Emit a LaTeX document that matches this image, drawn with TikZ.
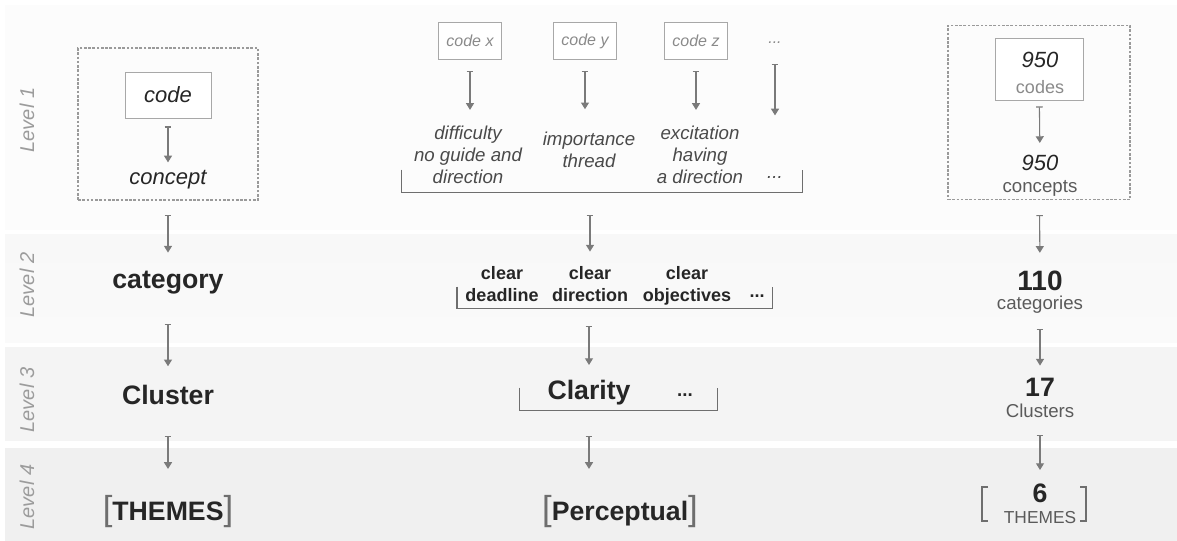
\documentclass[tikz,border=0pt]{standalone}
\usepackage{fontspec}
\setmainfont{Liberation Sans}
\usetikzlibrary{arrows.meta}

\newcommand{\sqbl}{{\fontsize{26}{26}\selectfont\mdseries\color{brkColour}[}}
\newcommand{\sqbr}{{\fontsize{26}{26}\selectfont\mdseries\color{brkColour}]}}

\begin{document}
\begin{tikzpicture}[x=0.75pt, y=-0.75pt,
    every node/.style={inner sep=1pt, text=textColour},
    arr/.style={draw=arrowColour, line width=0.8pt, {Bar[width=5pt]}-{Triangle[width=6pt, length=5pt]}},
    dashbox/.style={draw=dashColour, line width=0.9pt, dash pattern=on 2pt off 1.2pt},
    codebox/.style={draw=codeColour, line width=0.7pt, fill=white},
    brk/.style={draw=brkColour, line width=0.9pt},
    lvl/.style={rotate=90, text=lvlColour, font=\fontsize{15}{18}\selectfont\itshape},
    bigtext/.style={font=\fontsize{20}{24}\selectfont\bfseries},
    italtext/.style={font=\fontsize{16.5}{20}\selectfont\itshape},
    smalltext/.style={font=\fontsize{14}{16.5}\selectfont\itshape, align=center, text=italColour},
    cleartext/.style={font=\fontsize{13.5}{16.5}\selectfont\bfseries, align=center, text depth=3pt},
    codetext/.style={font=\fontsize{12}{14}\selectfont\itshape, text=codeText},
    counttext/.style={font=\fontsize{14}{17}\selectfont, text=countColour}
  ]
    % Define colours
    \definecolor{textColour}{HTML}{262626}
    \definecolor{italColour}{HTML}{4A4A4A}
    \definecolor{arrowColour}{HTML}{7A7A7A}
    \definecolor{dashColour}{HTML}{9A9A9A}
    \definecolor{codeColour}{HTML}{A8A8A8}
    \definecolor{codeText}{HTML}{8A8A8A}
    \definecolor{brkColour}{HTML}{6E6E6E}
    \definecolor{lvlColour}{HTML}{9C9C9C}
    \definecolor{countColour}{HTML}{5A5A5A}
    \definecolor{bandOne}{HTML}{FCFCFC}
    \definecolor{bandTwoTop}{HTML}{F8F8F8}
    \definecolor{bandTwoBottom}{HTML}{FAFAFA}
    \definecolor{bandThree}{HTML}{F4F4F4}
    \definecolor{bandFour}{HTML}{F0F0F0}

    % Fix the page size
    \fill[white] (0,0) rectangle (1177,541);
    \useasboundingbox (0,0) rectangle (1177,541);

    % Draw level bands
    \fill[bandOne] (5,5) rectangle (1177,230);
    \shade[top color=bandTwoTop, bottom color=bandTwoBottom] (5,235) rectangle (1177,343);
    \fill[bandThree] (5,347) rectangle (1177,441);
    \fill[bandFour] (5,448) rectangle (1177,541);

    % Level labels
    \node[lvl] (lvlA) at (27,120) {Level 1};
    \node[lvl] (lvlB) at (27,285) {Level 2};
    \node[lvl] (lvlC) at (27,400) {Level 3};
    \node[lvl] (lvlD) at (27,497) {Level 4};

    % Left column
    \node[dashbox, minimum width=135pt, minimum height=114pt] (lbox) at (168,124) {};
    \node[codebox, italtext, minimum width=64.5pt, minimum height=34.5pt] (lcode) at (168,95) {code};
    \node[italtext] (lconcept) at (168,180) {concept};
    \node[bigtext] (lcat) at (168,283) {category};
    \node[bigtext] (lclus) at (168,395) {Cluster};
    \node[bigtext] (lthemes) at (168,512) {\sqbl THEMES\sqbr};

    \draw[arr, shorten <=6pt, shorten >=5pt] (lcode) -- (lconcept);
    \draw[arr, shorten <=11pt, shorten >=13pt] (lbox) -- (lcat);
    \draw[arr, shorten <=21pt, shorten >=13pt] (lcat) -- (lclus);
    \draw[arr, shorten <=22pt, shorten >=19pt] (lclus) -- (lthemes);

    % Middle column, level 1
    \node[codebox, codetext, minimum width=47pt, minimum height=28pt] (cx) at (470,41) {code x};
    \node[codebox, codetext, minimum width=47pt, minimum height=28pt] (cy) at (585,41) {code y};
    \node[codebox, codetext, minimum width=47pt, minimum height=28pt] (cz) at (696,41) {code z};
    \node[codetext] (cdots) at (775,43) {...};
    \node[smalltext] (diff) at (468,155) {difficulty\\no guide and\\direction};
    \node[smalltext] (imp) at (589,150) {importance\\thread};
    \node[smalltext] (exc) at (700,155) {excitation\\having\\a direction};
    \node[smalltext] (ddots) at (775,178) {...};

    \draw[arr, shorten <=8pt, shorten >=11pt] (cx) -- (diff.north -| cx);
    \draw[arr, shorten <=8pt, shorten >=16pt] (cy) -- (imp.north -| cy);
    \draw[arr, shorten <=8pt, shorten >=11pt] (cz) -- (exc.north -| cz);
    \draw[arr, shorten <=14pt, shorten >=45pt] (cdots) -- (ddots);

    % Group bracket, level 1
    \node[minimum width=300pt, minimum height=16.5pt] (grpA) at (602,181) {};
    \draw[brk] (grpA.north west) |- (grpA.south east) -- (grpA.north east);

    % Middle column, level 2
    \node[cleartext] (cdead) at (502,286) {clear\\deadline};
    \node[cleartext] (cdir) at (590,286) {clear\\direction};
    \node[cleartext] (cobj) at (687,286) {clear\\objectives};
    \node[cleartext, text depth=0pt] (cmore) at (757,296) {...};
    \node[minimum width=236pt, minimum height=15.75pt] (grpB) at (614.5,297.5) {};
    \draw[brk] (grpB.north west) |- (grpB.south east) -- (grpB.north east);

    \draw[arr, shorten <=17pt, shorten >=10pt] (grpA.south -| cdir) -- (cdir);

    % Middle column, level 3
    \node[bigtext] (clar) at (589,393) {Clarity};
    \node[bigtext, font=\fontsize{14}{16}\selectfont\bfseries] (clmore) at (685,395) {...};
    \node[minimum width=148pt, minimum height=16.5pt] (grpC) at (618.5,399) {};
    \draw[brk] (grpC.north west) |- (grpC.south east) -- (grpC.north east);

    \draw[arr, shorten <=13pt, shorten >=10.5pt] (grpB.south -| clar) -- (clar);

    % Middle column, level 4
    \node[bigtext] (percep) at (620,512) {\sqbl Perceptual\sqbr};

    \draw[arr, shorten <=19pt, shorten >=19pt] (grpC.south -| clar) -- (clar |- percep.north);

    % Right column
    \node[dashbox, minimum width=136.5pt, minimum height=131pt] (rbox) at (1039,112.5) {};
    \node[codebox, minimum width=66pt, minimum height=46.5pt] (rcode) at (1039,69) {};
    \node[italtext] (rcodenum) at (1040,60) {950};
    \node[counttext, font=\fontsize{13.5}{16}\selectfont, text=codeText] (rcodelab) at (1040,87) {codes};
    \node[italtext] (rconnum) at (1040,163) {950};
    \node[counttext] (rconlab) at (1040,188) {concepts};
    \node[bigtext, font=\fontsize{21}{24}\selectfont\bfseries] (rcatnum) at (1040,281) {110};
    \node[counttext] (rcatlab) at (1040,305) {categories};
    \node[bigtext] (rclusnum) at (1040,387) {17};
    \node[counttext] (rcluslab) at (1040,411) {Clusters};
    \node[bigtext] (rthemnum) at (1040,493) {6};
    \node[counttext, font=\fontsize{13}{16}\selectfont] (rthemlab) at (1040,518) {THEMES};

    % Right brackets round the themes
    \draw[brk] (988,487) -- (982,487) -- (982,521) -- (988,521);
    \draw[brk] (1080,487) -- (1086,487) -- (1086,521) -- (1080,521);

    \draw[arr, shorten <=4.5pt, shorten >=8pt] (rcode) -- (rconnum);
    \draw[arr, shorten <=11pt, shorten >=12.5pt] (rbox) -- (rcatnum);
    \draw[arr, shorten <=10pt, shorten >=8pt] (rcatlab) -- (rclusnum);
    \draw[arr, shorten <=11.7pt, shorten >=9pt] (rcluslab) -- (rthemnum);

\end{tikzpicture}
\end{document}
